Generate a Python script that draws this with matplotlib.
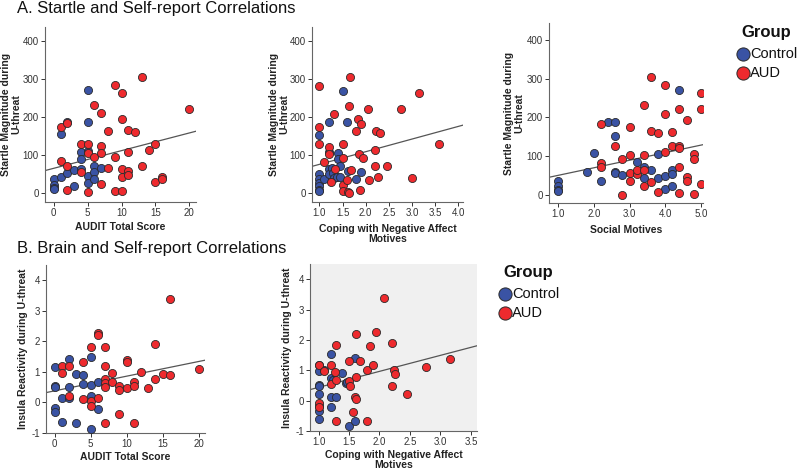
import numpy as np
import matplotlib.pyplot as plt

plt.rcParams['font.family'] = ['Liberation Sans', 'DejaVu Sans']
plt.rcParams['axes.unicode_minus'] = False

# ---- data ----
# A1: AUDIT total score vs startle
a1_ctrl_x = [0, 0, 0, 0, 1, 1, 2, 2, 3, 3, 4, 4, 4, 5, 5, 5, 5, 5, 6, 6, 6, 7]
a1_ctrl_y = [35, 20, 12, 8, 40, 154, 186, 52, 60, 16, 108, 88, 62, 270, 186, 110, 44, 24, 71, 55, 37, 66]
a1_aud_x = [1, 1, 2, 2, 2, 4, 4, 5, 5, 5, 6, 6, 7, 7, 7, 7, 8, 8, 9, 9, 9, 10, 10, 10, 10, 10,
            11, 11, 11, 11, 12, 13, 13, 14, 15, 15, 16, 16, 20]
a1_aud_y = [174, 83, 183, 71, 7, 128, 55, 128, 104, 1, 231, 93, 209, 123, 104, 23, 163, 64, 284, 93, 3,
            264, 194, 63, 40, 5, 165, 107, 58, 47, 160, 304, 70, 112, 127, 29, 42, 36, 221]

# A2: coping motives vs startle
a2_ctrl_x = [1.0, 1.0, 1.0, 1.0, 1.0, 1.0, 1.0, 1.09, 1.2, 1.2, 1.2, 1.2, 1.27, 1.3, 1.31, 1.38,
             1.4, 1.4, 1.45, 1.45, 1.5, 1.6, 1.61, 1.8, 1.9]
a2_ctrl_y = [152, 49, 35, 25, 16, 7, 5, 35, 185, 108, 62, 49, 64, 51, 38, 42,
             105, 88, 70, 42, 269, 185, 58, 37, 53]
a2_aud_x = [1.0, 1.0, 1.0, 1.09, 1.2, 1.2, 1.26, 1.31, 1.34, 1.5, 1.5, 1.5, 1.52, 1.6, 1.61, 1.64,
            1.63, 1.67, 1.69, 1.8, 1.83, 1.85, 1.9, 1.87, 1.95, 2.04, 2.07, 2.19, 2.2, 2.23, 2.31,
            2.26, 2.46, 2.77, 3.0, 3.16, 3.58]
a2_aud_y = [282, 172, 127, 80, 121, 101, 27, 207, 62, 127, 92, 20, 5, 33, 2, 0,
            229, 304, 60, 163, 193, 101, 181, 7, 92, 220, 33, 111, 69, 163, 158,
            40, 69, 220, 38, 262, 127]

# A3: social motives vs startle
a3_ctrl_x = [1.0, 1.0, 1.0, 1.0, 1.8, 2.0, 2.2, 2.4, 2.6, 2.6, 2.6, 2.6, 2.8, 3.2, 3.4, 3.4,
             3.6, 3.8, 3.8, 4.0, 4.0, 4.2, 4.2, 4.2, 4.4]
a3_ctrl_y = [36, 22, 13, 9, 60, 109, 36, 187, 187, 152, 60, 56, 52, 86, 73, 43,
             65, 43, 106, 49, 15, 65, 54, 23, 271]
a3_aud_x = [2.2, 2.2, 2.2, 2.6, 2.8, 2.8, 3.0, 3.0, 3.0, 3.0, 3.2, 3.2, 3.4, 3.4, 3.4, 3.4,
            3.6, 3.6, 3.6, 3.8, 3.8, 4.0, 4.0, 4.0, 4.2, 4.2, 4.4, 4.4, 4.4, 4.4, 4.4,
            4.6, 4.6, 4.6, 4.8, 4.8, 4.8, 5.0, 5.0, 5.0]
a3_aud_y = [182, 82, 71, 126, 92, 0, 175, 103, 56, 37, 54, 63, 231, 103, 65, 23,
            305, 165, 34, 159, 7, 284, 208, 112, 163, 126, 221, 125, 120, 71, 6,
            194, 46, 36, 106, 92, 3, 262, 221, 28]

# B1: AUDIT total score vs insula
b1_ctrl_x = [0, 0, 0, 0, 0, 1, 1, 2, 2, 2, 3, 3, 4, 4, 5, 5, 5, 5, 6, 6]
b1_ctrl_y = [0.54, 0.49, 1.16, -0.19, -0.32, 0.14, -0.63, 1.42, 0.5, 0.14, 0.94, -0.68,
             0.9, 0.6, 1.5, 0.57, 0.22, -0.86, 0.68, -0.22]
b1_aud_x = [1, 1, 2, 2, 4, 4, 5, 5, 5, 6, 6, 6, 7, 7, 7, 7, 7, 7, 8, 8, 9, 9, 9, 10, 10, 10,
            11, 11, 11, 12, 13, 14, 14, 15, 16, 16, 20]
b1_aud_y = [1.18, 0.96, 1.2, 0.21, 1.34, 0.1, 1.8, 0.06, -0.1, 2.27, 2.2, 0.14, 1.83, 1.18,
            0.76, 0.65, 0.52, -0.67, 0.98, 0.66, 0.55, 0.41, -0.39, 1.4, 1.31, 0.46,
            0.66, 0.54, -0.67, 1.01, 0.46, 1.91, 0.76, 0.94, 3.4, 0.9, 1.1]

# B2: coping motives vs insula
b2_ctrl_x = [1.0, 1.0, 1.0, 1.0, 1.0, 1.0, 1.0, 1.0, 1.09, 1.2, 1.2, 1.2, 1.2, 1.24, 1.29,
             1.39, 1.45, 1.47, 1.5, 1.6, 1.6]
b2_ctrl_y = [1.16, 0.97, 0.52, 0.47, 0.21, -0.18, -0.34, -0.62, 1.02, 1.52, 0.74, 0.13, -0.2,
             0.69, 0.13, 0.91, 0.58, 0.63, -0.84, 1.41, -0.67]
b2_aud_x = [1.0, 1.0, 1.0, 1.09, 1.2, 1.2, 1.27, 1.29, 1.29, 1.29, 1.5, 1.5, 1.52, 1.56, 1.6,
            1.61, 1.61, 1.62, 1.68, 1.79, 1.8, 1.84, 1.9, 1.95, 2.07, 2.2, 2.21, 2.24, 2.26,
            2.45, 2.76, 3.16]
b2_aud_y = [1.19, -0.09, -0.2, 0.97, 1.17, 0.54, 0.93, 1.82, -0.67, 0.69, 1.32, 0.66, 0.47,
            -0.39, 0.13, 0.06, 2.21, 0.77, 1.3, -0.67, 1.02, 1.8, 1.19, 2.27, 3.39, 1.91,
            0.47, 1.0, 0.89, 0.22, 1.1, 1.38]

# total-sample fit lines as drawn (intercept, slope)
fit_a1 = (64, 4.66)
fit_a2 = (41, 33.4)
fit_a3 = (31, 19.5)
fit_b1 = (0.38, 0.048)
fit_b2 = (-0.09, 0.527)

groups = ['Control', 'AUD']
ctrl_color = '#3a53a4'
aud_color = '#ee2a2e'

W, H = 800, 471
fig = plt.figure(figsize=(8, 4.71), dpi=100)


def add_ax(left, top, right, bottom):
    return fig.add_axes([left / W, 1 - bottom / H, (right - left) / W, (bottom - top) / H])


def scatter_panel(ax, cx, cy, ax_, ay, fit, xlim, ylim, xticks, yticks, xfmt):
    ax.set_xlim(xlim)
    ax.set_ylim(ylim)
    icpt, slope = fit
    xs = np.array(xlim)
    ax.plot(xs, icpt + slope * xs, color='#555555', lw=0.9, zorder=2)
    ax.scatter(cx, cy, s=34, color=ctrl_color, edgecolor='#2a2a2a', linewidth=0.6, zorder=3)
    ax.scatter(ax_, ay, s=34, color=aud_color, edgecolor='#2a2a2a', linewidth=0.6, zorder=3)
    ax.set_xticks(xticks)
    ax.set_xticklabels([xfmt.format(v) for v in xticks])
    ax.set_yticks(yticks)
    for s in ['top', 'right']:
        ax.spines[s].set_visible(False)
    for s in ['left', 'bottom']:
        ax.spines[s].set_color('#666666')
        ax.spines[s].set_linewidth(0.8)
    ax.tick_params(labelsize=7, colors='#333333', length=3, width=0.7, pad=1.5)


def labels(ax, left, right, top, bottom, xlab, ylab, ylab_x, xlab_y):
    ax.set_xlabel(xlab, ha='center', va='top', linespacing=1.05, **lab_kw)
    ax.set_ylabel(ylab, ha='center', va='center', linespacing=1.0, **lab_kw)
    ax.yaxis.set_label_coords((ylab_x - left) / (right - left), 0.5)
    ax.xaxis.set_label_coords(0.5, (bottom - xlab_y) / (bottom - top))


ylab_a = 'Startle Magnitude during\nU-threat'
ylab_b = 'Insula Reactivity during U-threat'
lab_kw = dict(fontsize=7.5, fontweight='bold', color='#222222')

ax1 = add_ax(45, 27, 196, 202)
scatter_panel(ax1, a1_ctrl_x, a1_ctrl_y, a1_aud_x, a1_aud_y, fit_a1, (-1.3, 21), (-25, 437),
              [0, 5, 10, 15, 20], [0, 100, 200, 300, 400], '{:g}')
labels(ax1, 45, 196, 27, 202, 'AUDIT Total Score', ylab_a, 11, 222)

ax2 = add_ax(312, 27, 463, 202)
scatter_panel(ax2, a2_ctrl_x, a2_ctrl_y, a2_aud_x, a2_aud_y, fit_a2, (0.84, 4.1), (-25, 437),
              [1.0, 1.5, 2.0, 2.5, 3.0, 3.5, 4.0], [0, 100, 200, 300, 400], '{:.1f}')
labels(ax2, 312, 463, 27, 202, 'Coping with Negative Affect\nMotives', ylab_a, 279, 224)

ax3 = add_ax(549, 23, 703, 203)
scatter_panel(ax3, a3_ctrl_x, a3_ctrl_y, a3_aud_x, a3_aud_y, fit_a3, (0.74, 5.06), (-21, 444),
              [1.0, 2.0, 3.0, 4.0, 5.0], [0, 100, 200, 300, 400], '{:.1f}')
labels(ax3, 549, 703, 23, 203, 'Social Motives', ylab_a, 514, 225)

ax4 = add_ax(46, 265, 205, 433)
scatter_panel(ax4, b1_ctrl_x, b1_ctrl_y, b1_aud_x, b1_aud_y, fit_b1, (-1.2, 20.9), (-1.0, 4.5),
              [0, 5, 10, 15, 20], [-1, 0, 1, 2, 3, 4], '{:g}')
labels(ax4, 46, 205, 265, 433, 'AUDIT Total Score', ylab_b, 23, 452)

ax5 = add_ax(310, 264, 477, 431)
scatter_panel(ax5, b2_ctrl_x, b2_ctrl_y, b2_aud_x, b2_aud_y, fit_b2, (0.86, 3.6), (-1.0, 4.5),
              [1.0, 1.5, 2.0, 2.5, 3.0, 3.5], [-1, 0, 1, 2, 3, 4], '{:.1f}')
ax5.set_facecolor('#f0f0f0')
labels(ax5, 310, 477, 264, 431, 'Coping with Negative Affect\nMotives', ylab_b, 287, 450)

# section titles
fig.text(17 / W, 1 - 9 / H, 'A. Startle and Self-report Correlations', fontsize=12,
         va='center', ha='left', color='#111111')
fig.text(17 / W, 1 - 248 / H, 'B. Brain and Self-report Correlations', fontsize=12,
         va='center', ha='left', color='#111111')


def group_legend(x0, y0):
    fig.text((x0 + 26) / W, 1 - y0 / H, 'Group', fontsize=12, fontweight='bold',
             ha='center', va='center', color='#111111')
    cols = [ctrl_color, aud_color]
    for i, (g, c) in enumerate(zip(groups, cols)):
        yy = y0 + 21 + i * 19
        fig.lines.append(plt.Line2D([(x0 + 3) / W], [1 - yy / H], transform=fig.transFigure,
                                    marker='o', markersize=9.5, color=c,
                                    markeredgecolor='#2a2a2a', markeredgewidth=0.7))
        fig.text((x0 + 10) / W, 1 - yy / H, g, fontsize=10.5, ha='left', va='center',
                 color='#111111')


group_legend(740, 33)
group_legend(502, 273)

fig.savefig('out.png', dpi=100)
